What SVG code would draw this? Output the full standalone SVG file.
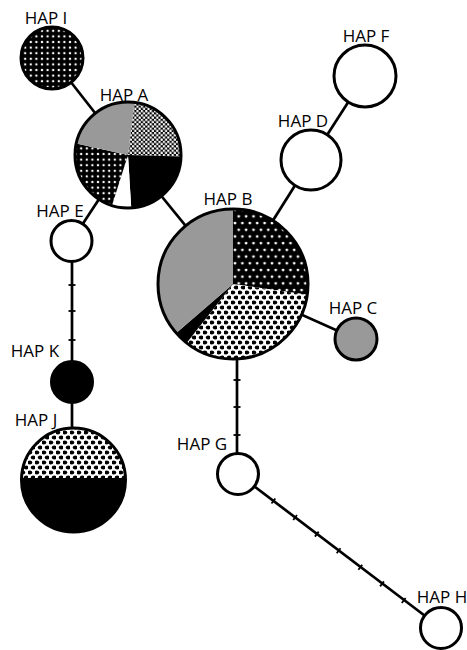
<svg xmlns="http://www.w3.org/2000/svg" width="467" height="650" viewBox="0 0 467 650">
<defs>
<pattern id="darkdots" patternUnits="userSpaceOnUse" width="5.6" height="5.6">
<rect width="5.6" height="5.6" fill="#000"/>
<circle cx="2.8" cy="2.8" r="1.2" fill="#fff"/>
</pattern>
<pattern id="darkdots2" patternUnits="userSpaceOnUse" width="7.4" height="13.4">
<rect width="7.4" height="13.4" fill="#000"/>
<circle cx="1.9" cy="2" r="1.4" fill="#fff"/>
<circle cx="5.6" cy="8.7" r="1.4" fill="#fff"/>
</pattern>
<pattern id="lightdots" patternUnits="userSpaceOnUse" width="4.4" height="4.4">
<rect width="4.4" height="4.4" fill="#000"/>
<circle cx="1.1" cy="1.1" r="1.25" fill="#fff"/>
<circle cx="3.3" cy="3.3" r="1.25" fill="#fff"/>
</pattern>
<pattern id="bigdots" patternUnits="userSpaceOnUse" width="7" height="10">
<rect width="7" height="10" fill="#fff"/>
<ellipse cx="1.75" cy="2.5" rx="2.5" ry="1.95" fill="#000"/>
<ellipse cx="5.25" cy="7.5" rx="2.5" ry="1.95" fill="#000"/>
</pattern>
</defs>
<style>
.edge{stroke:#000;stroke-width:2.7;fill:none}
.tick{stroke:#000;stroke-width:1.8}
.ring{fill:none;stroke:#000;stroke-width:3}
.plain{fill:#fff;stroke:#000;stroke-width:3}
.lbl{font-family:"Open Sans","Noto Sans",sans-serif;font-size:17px;font-weight:500;fill:#000;text-anchor:middle}
</style>
<g id="connectors">
<line class="edge" x1="52" y1="58" x2="128" y2="155"/>
<line class="edge" x1="128" y1="155" x2="71.5" y2="241"/>
<line class="edge" x1="128" y1="155" x2="233" y2="284"/>
<line class="edge" x1="72" y1="241" x2="72" y2="382"/>
<line class="edge" x1="72" y1="382" x2="72" y2="480"/>
<line class="edge" x1="233" y1="284" x2="311" y2="160"/>
<line class="edge" x1="311" y1="160" x2="365" y2="76"/>
<line class="edge" x1="233" y1="284" x2="356" y2="339"/>
<line class="edge" x1="237" y1="284" x2="237" y2="474"/>
<line class="edge" x1="238" y1="474" x2="441" y2="628"/>
<g id="ticks">
<line class="tick" x1="68.5" y1="285" x2="75.5" y2="285"/>
<line class="tick" x1="68.5" y1="311" x2="75.5" y2="311"/>
<line class="tick" x1="68.5" y1="340" x2="75.5" y2="340"/>
<line class="tick" x1="233.5" y1="380" x2="240.5" y2="380"/>
<line class="tick" x1="233.5" y1="407" x2="240.5" y2="407"/>
<line class="tick" x1="233.5" y1="435" x2="240.5" y2="435"/>
<line class="tick" x1="271.5" y1="503.5" x2="275.3" y2="498.5"/>
<line class="tick" x1="293.2" y1="520" x2="297" y2="515"/>
<line class="tick" x1="314.9" y1="536.6" x2="318.7" y2="531.6"/>
<line class="tick" x1="336.7" y1="553.2" x2="340.5" y2="548.2"/>
<line class="tick" x1="358.4" y1="569.8" x2="362.2" y2="564.8"/>
<line class="tick" x1="380.1" y1="586.4" x2="383.9" y2="581.4"/>
<line class="tick" x1="401.8" y1="603" x2="405.6" y2="598"/>
</g>
</g>
<g id="hap-i">
<circle cx="52" cy="58" r="31" fill="url(#darkdots)" stroke="#000" stroke-width="3"/>
<text class="lbl" x="46" y="24">HAP I</text>
</g>
<g id="hap-a">
<path d="M128,155 L134.46,102.40 A53,53 0 0 1 180.98,156.57 Z" fill="url(#lightdots)"/>
<path d="M128,155 L180.98,156.57 A53,53 0 0 1 131.24,207.90 Z" fill="#000"/>
<path d="M128,155 L131.24,207.90 A53,53 0 0 1 111.97,205.52 Z" fill="#fff"/>
<path d="M128,155 L111.97,205.52 A53,53 0 0 1 76.24,143.62 Z" fill="url(#darkdots)"/>
<path d="M128,155 L76.24,143.62 A53,53 0 0 1 134.46,102.40 Z" fill="#999"/>
<circle class="ring" cx="128" cy="155" r="53"/>
<text class="lbl" x="124" y="101">HAP A</text>
</g>
<g id="hap-e">
<circle class="plain" cx="71.5" cy="241" r="20.5"/>
<text class="lbl" x="60" y="217">HAP E</text>
</g>
<g id="hap-k">
<circle cx="72" cy="382" r="21" fill="#000" stroke="#000" stroke-width="2"/>
<text class="lbl" x="35" y="357">HAP K</text>
</g>
<g id="hap-j">
<path d="M21.54,478 A52,52 0 0 1 125.46,478 Z" fill="url(#bigdots)"/>
<path d="M125.46,478 A52,52 0 1 1 21.54,478 Z" fill="#000"/>
<circle class="ring" cx="73.5" cy="480" r="52"/>
<text class="lbl" x="36" y="426">HAP J</text>
</g>
<g id="hap-b">
<path d="M233,284 L233,209 A75,75 0 0 1 307.23,294.70 Z" fill="url(#darkdots2)"/>
<path d="M233,284 L307.23,294.70 A75,75 0 0 1 186.62,342.94 Z" fill="url(#bigdots)"/>
<path d="M233,284 L186.62,342.94 A75,75 0 0 1 176.31,333.11 Z" fill="#000"/>
<path d="M233,284 L176.31,333.11 A75,75 0 0 1 233,209 Z" fill="#999"/>
<circle class="ring" cx="233" cy="284" r="75"/>
<text class="lbl" x="228" y="205">HAP B</text>
</g>
<g id="hap-c">
<circle cx="356" cy="339" r="21" fill="#999" stroke="#000" stroke-width="3"/>
<text class="lbl" x="353" y="314">HAP C</text>
</g>
<g id="hap-d">
<circle class="plain" cx="311" cy="160" r="30"/>
<text class="lbl" x="303" y="127">HAP D</text>
</g>
<g id="hap-f">
<circle class="plain" cx="365" cy="76" r="31"/>
<text class="lbl" x="366" y="42">HAP F</text>
</g>
<g id="hap-g">
<circle class="plain" cx="238" cy="474" r="20.5"/>
<text class="lbl" x="202" y="450">HAP G</text>
</g>
<g id="hap-h">
<circle class="plain" cx="441" cy="628" r="20.5"/>
<text class="lbl" x="442" y="603">HAP H</text>
</g>
</svg>
